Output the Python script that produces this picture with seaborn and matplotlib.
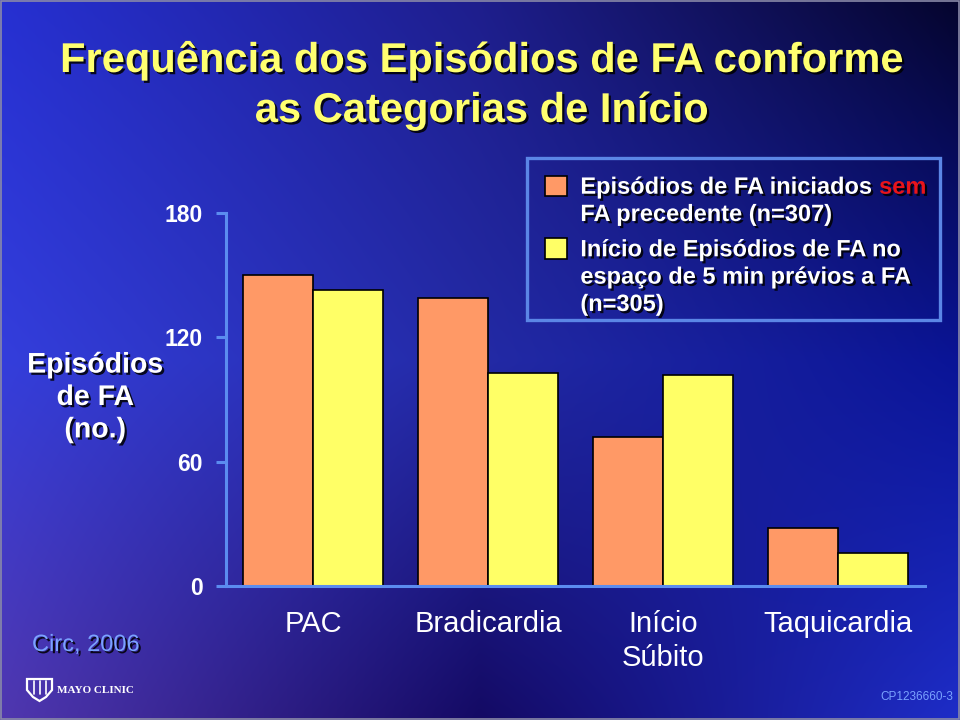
import numpy as np
import pandas as pd
import matplotlib
matplotlib.use("Agg")
import matplotlib.pyplot as plt
import matplotlib.patheffects as pe
from matplotlib.offsetbox import HPacker
from matplotlib.patches import Rectangle, Polygon
import seaborn as sns

# ---------------- data ----------------
categories = ["PAC", "Bradicardia", "Início\nSúbito", "Taquicardia"]
series_labels = [
    "Episódios de FA iniciados sem\nFA precedente (n=307)",
    "Início de Episódios de FA no\nespaço de 5 min prévios a FA\n(n=305)",
]
highlight_word = "sem"
values_sem_fa = [150, 139, 72, 28]
values_5min = [143, 103, 102, 16]
y_ticks = [0, 60, 120, 180]
title_line1 = "Frequência dos Episódios de FA conforme"
title_line2 = "as Categorias de Início"
y_label = "Episódios\nde FA\n(no.)"

df = pd.DataFrame({
    "categoria": categories * 2,
    "serie": [series_labels[0]] * len(categories) + [series_labels[1]] * len(categories),
    "episodios": values_sem_fa + values_5min,
})

sns.set_theme(style="white")
plt.rcParams["font.family"] = ["Liberation Sans", "DejaVu Sans"]

fig = plt.figure(figsize=(9.6, 7.2), dpi=100)

# ---------------- background gradient ----------------
grid = np.array([
    [[38, 48, 210], [30, 30, 140], [5, 5, 45]],
    [[52, 62, 220], [35, 42, 165], [10, 20, 150]],
    [[80, 55, 175], [20, 10, 100], [30, 45, 200]],
], dtype=float) / 255.0
H, W = 360, 480
ys = np.linspace(0, 2, H)
xs = np.linspace(0, 2, W)
tmp = np.zeros((3, W, 3))
for r in range(3):
    for c in range(3):
        tmp[r, :, c] = np.interp(xs, [0, 1, 2], grid[r, :, c])
img = np.zeros((H, W, 3))
for j in range(W):
    for c in range(3):
        img[:, j, c] = np.interp(ys, [0, 1, 2], tmp[:, j, c])
bg = fig.add_axes([0, 0, 1, 1], zorder=-10)
bg.imshow(np.clip(img, 0, 1), aspect="auto", extent=[0, 1, 0, 1], origin="upper",
          interpolation="bicubic")
bg.set_xlim(0, 1)
bg.set_ylim(0, 1)
bg.axis("off")
bg.add_patch(Rectangle((0.001, 0.001), 0.998, 0.998, fill=False,
                       edgecolor="#8a8aa8", linewidth=1.2))

# small shield logo (decoration)
def px(x, y):
    return (x / 960, 1 - y / 720)

shield = Polygon([px(27, 679), px(52, 679), px(52, 690), px(46, 697), px(39.5, 701),
                  px(33, 697), px(27, 690)], closed=True, fill=False,
                 edgecolor="white", linewidth=1.6, transform=fig.transFigure)
fig.add_artist(shield)
for xx in (33.5, 39.5, 45.5):
    fig.add_artist(plt.Line2D([xx / 960, xx / 960], [1 - 681 / 720, 1 - 694 / 720],
                              color="white", linewidth=1.2, transform=fig.transFigure))

shadow = [pe.SimplePatchShadow(offset=(1.6, -1.6), shadow_rgbFace="black", alpha=0.85),
          pe.Normal()]

# ---------------- main axes ----------------
ax = fig.add_axes([226 / 960, 134 / 720, 699 / 960, 373 / 720])
ax.patch.set_alpha(0)
sns.barplot(data=df, x="categoria", y="episodios", hue="serie",
            palette=["#FF9966", "#FFFF66"], saturation=1,
            edgecolor="black", linewidth=1.2, width=0.8, ax=ax)

ax.set_ylim(0, 180)
ax.set_xlim(-0.5, 3.5)
ax.set_yticks(y_ticks)
ax.set_xlabel("")
ax.set_ylabel(y_label, rotation=0, ha="center", va="center", color="white",
              fontsize=20.5, fontweight="bold", multialignment="center",
              linespacing=1.32)
ax.yaxis.set_label_coords(-0.187, 0.504)
ax.yaxis.label.set_path_effects(shadow)

axis_blue = "#5B8CF0"
for s in ["top", "right"]:
    ax.spines[s].set_visible(False)
for s in ["left", "bottom"]:
    ax.spines[s].set_color(axis_blue)
    ax.spines[s].set_linewidth(2.2)
ax.tick_params(axis="y", length=7, width=2.2, color=axis_blue, pad=10,
               labelsize=16.5, labelcolor="white", left=True)
ax.tick_params(axis="x", length=0, pad=17, labelsize=21, labelcolor="white")
for lab in ax.get_yticklabels():
    lab.set_fontweight("bold")
for lab in ax.get_xticklabels():
    lab.set_linespacing(1.3)

# ---------------- legend ----------------
old = ax.get_legend()
handles = list(old.legend_handles)
full_labels = [t.get_text() for t in old.get_texts()]
old.remove()
# the highlighted word is drawn separately in red
first_lines = full_labels[0].split("\n")
shown_labels = [first_lines[0].replace(" " + highlight_word, "") + "\n" + "\n".join(first_lines[1:]),
                full_labels[1]]
leg = ax.legend(handles, shown_labels, loc="upper left",
                bbox_to_anchor=(527 / 960, 1 - 158 / 720), bbox_transform=fig.transFigure,
                borderaxespad=0, frameon=False,
                prop={"size": 17.0, "weight": "bold"}, labelcolor="white",
                handlelength=0.95, handleheight=0.95, handletextpad=0.56,
                borderpad=0.75, labelspacing=0.52)
for p in leg.get_patches():
    p.set_edgecolor("black")
    p.set_linewidth(1.2)
for t in leg.get_texts():
    t.set_path_effects(shadow)
    t.set_linespacing(1.24)
fig.add_artist(Rectangle((527 / 960, 1 - 320 / 720), (940 - 527) / 960, (320 - 158) / 720,
                         transform=fig.transFigure, fill=False,
                         edgecolor="#5B86E6", linewidth=2.4))


def align_top(box):
    for c in box.get_children():
        if isinstance(c, HPacker):
            c.align = "top"
        if hasattr(c, "get_children"):
            align_top(c)


align_top(leg.get_children()[0])

# ---------------- titles and notes ----------------
fig.text(0.502, 1 - 72 / 720, title_line1, ha="center", va="baseline",
         fontsize=30, fontweight="bold", color="#FFFF70", path_effects=shadow)
fig.text(0.502, 1 - 122 / 720, title_line2, ha="center", va="baseline",
         fontsize=30, fontweight="bold", color="#FFFF70", path_effects=shadow)
fig.text(32 / 960, 1 - 651 / 720, "Circ, 2006", ha="left", va="baseline",
         fontsize=17, color="#7AA2FF", path_effects=shadow)
fig.text(57 / 960, 1 - 693 / 720, "MAYO CLINIC", ha="left", va="baseline",
         fontsize=8, fontweight="bold", color="white", family=["Liberation Serif"])
fig.text(953 / 960, 1 - 700 / 720, "CP1236660-3", ha="right", va="baseline",
         fontsize=8.5, color="#7AA2FF")

# red highlighted word after the first legend line
fig.canvas.draw()
renderer = fig.canvas.get_renderer()
t0 = leg.get_texts()[0]
bb = t0.get_window_extent(renderer)
prop = t0.get_fontproperties()
line1_full = first_lines[0]
line1_shown = t0.get_text().split("\n")[0]
wf, _, _ = renderer.get_text_width_height_descent(line1_full, prop, ismath=False)
w1, h1, d1 = renderer.get_text_width_height_descent(line1_shown, prop, ismath=False)
_, lph, lpd = renderer.get_text_width_height_descent("lp", prop, ismath=False)
hh = max(h1, lph)
dd = max(d1, lpd)
base_y = bb.y1 - (hh - dd)
fig.text(bb.x0 + wf, base_y, highlight_word, transform=None, ha="right", va="baseline",
         fontproperties=prop, color="#E8141B", path_effects=shadow)

fig.savefig("out.png", dpi=100)
